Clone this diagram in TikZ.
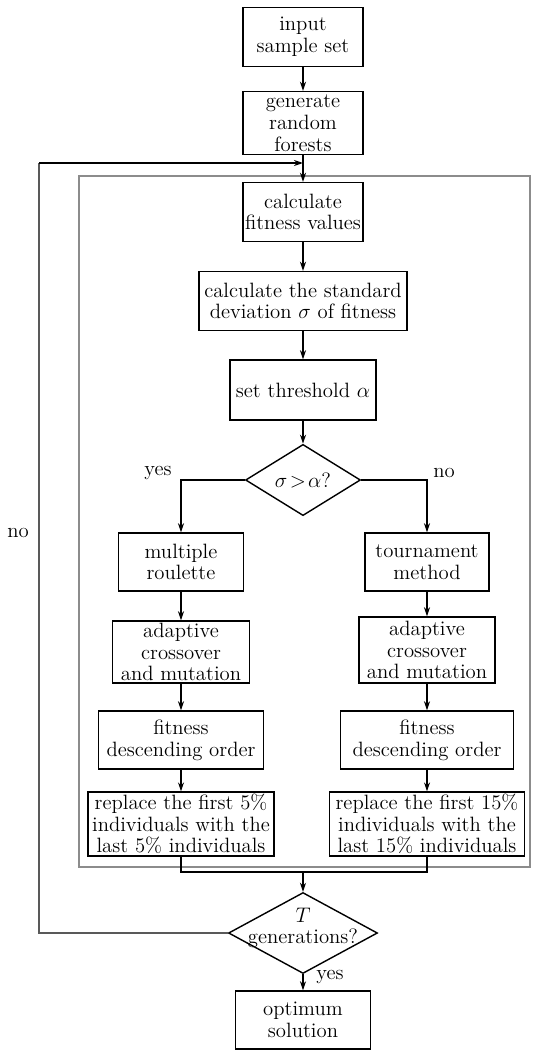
\documentclass[tikz,border=0pt]{standalone}
\usetikzlibrary{arrows.meta,shapes.geometric}
\begin{document}
\begin{tikzpicture}[x=0.02cm,y=-0.02cm,line width=0.8pt,>={Stealth[length=1.8mm,width=1.2mm]},
  font=\fontsize{11.8}{12.4}\selectfont,
  flowbox/.style={draw,align=center,inner sep=1pt},
  decide/.style={draw,diamond,inner sep=0pt},
  looppath/.style={line width=0.6pt,black!65}]
\useasboundingbox (0,0) rectangle (533,1051);
% ---------- 主列 ----------
\node[flowbox,minimum width=2.4cm,minimum height=1.18cm] (in) at (303,37) {input\\sample set};
\node[flowbox,minimum width=2.4cm,minimum height=1.26cm] (rf) at (303,123) {generate\\random\\forests};
\node[flowbox,minimum width=2.4cm,minimum height=1.18cm] (fit) at (303,212) {calculate\\fitness values};
\node[flowbox,minimum width=4.16cm,minimum height=1.18cm] (sd) at (303,301) {calculate the standard\\deviation $\sigma$ of fitness};
\node[flowbox,minimum width=2.92cm,minimum height=1.2cm] (thr) at (303,390) {set threshold $\alpha$};
\node[decide,minimum width=2.3cm,minimum height=1.32cm] (cmp) at (303,480) {$\sigma\!>\!\alpha$?};
% ---------- 左分支 (yes) ----------
\node[flowbox,minimum width=2.5cm,minimum height=1.16cm] (mr) at (181,562) {multiple\\roulette};
\node[flowbox,minimum width=2.74cm,minimum height=1.24cm] (acL) at (181,652) {adaptive\\crossover\\and mutation};
\node[flowbox,minimum width=3.3cm,minimum height=1.16cm] (fdL) at (181,740) {fitness\\descending order};
\node[flowbox,minimum width=3.72cm,minimum height=1.26cm] (rpL) at (181,824) {replace the first 5\%\\individuals with the\\last 5\% individuals};
% ---------- 右分支 (no) ----------
\node[flowbox,minimum width=2.48cm,minimum height=1.16cm] (tm) at (427,562) {tournament\\method};
\node[flowbox,minimum width=2.72cm,minimum height=1.32cm] (acR) at (427,650) {adaptive\\crossover\\and mutation};
\node[flowbox,minimum width=3.46cm,minimum height=1.16cm] (fdR) at (427,740) {fitness\\descending order};
\node[flowbox,minimum width=3.9cm,minimum height=1.26cm] (rpR) at (427,824) {replace the first 15\%\\individuals with the\\last 15\% individuals};
% ---------- 终止判断 ----------
\node[decide,minimum width=2.98cm,minimum height=1.62cm] (gen) at (303,933) {};
\node[align=center,inner sep=0pt] (gentxt) at (303,928) {$T$\\generations?};
\node[flowbox,minimum width=2.7cm,minimum height=1.16cm] (opt) at (303,1020) {optimum\\solution};
% 标签
\node (yesL) at (158,473) {yes};
\node (noR) at (444,473) {no};
\node (noL) at (18,533) {no};
\node (yesB) at (330,977) {yes};
% 辅助点
\coordinate (entry) at (303,163);
\coordinate (loopC) at (39,163);
\coordinate (merge) at (303,872);
% 灰色外框
\draw[line width=0.6pt,black!45] (79,176) rectangle (530,867);
% 连线
\draw[->] (in) -- (rf);
\draw[->] (rf) -- (fit);
\draw[->] (fit) -- (sd);
\draw[->] (sd) -- (thr);
\draw[->] (thr) -- (cmp);
\draw[->] (cmp.west) -| (mr.north);
\draw[->] (cmp.east) -| (tm.north);
\draw[->] (mr) -- (acL);
\draw[->] (acL) -- (fdL);
\draw[->] (fdL) -- (rpL);
\draw[->] (tm) -- (acR);
\draw[->] (acR) -- (fdR);
\draw[->] (fdR) -- (rpR);
\draw (rpL.south) |- (merge) -| (rpR.south);
\draw[->] (merge) -- (gen.north);
\draw[->] (gen.south) -- (opt.north);
\draw[looppath] (gen.west) -| (loopC);
\draw[->] (loopC) -- (entry);
\end{tikzpicture}
\end{document}
